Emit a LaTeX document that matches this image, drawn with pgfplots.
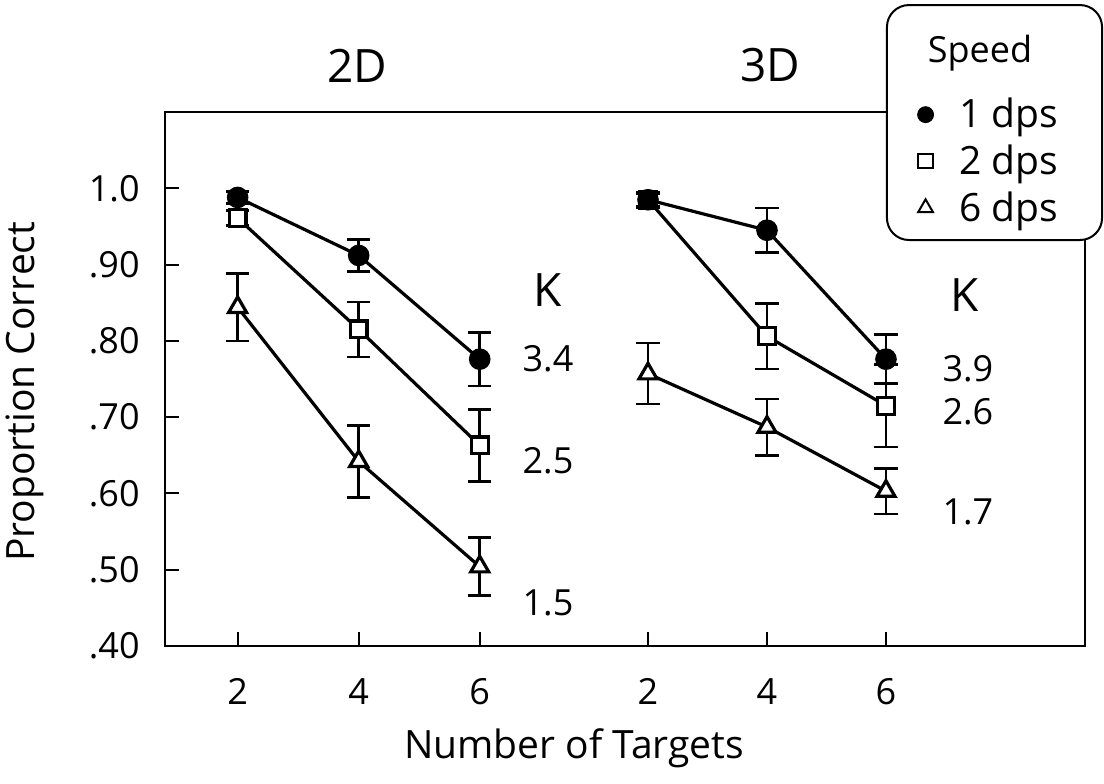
\documentclass[border=0pt]{standalone}
\usepackage{pgfplots}
\pgfplotsset{compat=1.18}
\usepackage{fontspec}
\setmainfont{Open Sans}
\pgfplotstableread{
x y e
1 0.988 0.008
2 0.912 0.021
3 0.776 0.035
}\tdA
\pgfplotstableread{
x y e
1 0.961 0.010
2 0.815 0.036
3 0.663 0.047
}\tdB
\pgfplotstableread{
x y e
1 0.844 0.044
2 0.642 0.047
3 0.504 0.038
}\tdC
\pgfplotstableread{
x y e
4.39 0.985 0.010
5.373 0.945 0.029
6.356 0.776 0.032
}\ttA
\pgfplotstableread{
x y e
4.39 0.985 0.008
5.373 0.806 0.043
6.356 0.715 0.054
}\ttB
\pgfplotstableread{
x y e
4.39 0.757 0.040
5.373 0.687 0.037
6.356 0.603 0.030
}\ttC
\newcommand{\fs}{\fontsize{18}{22}\selectfont}
\newcommand{\fl}{\fontsize{19.5}{23}\selectfont}
\newcommand{\fb}{\fontsize{23}{27}\selectfont}
\pgfplotsset{
  ser/.style={black, line width=1.6pt, mark options={solid, line width=1pt, black},
    error bars/y dir=both, error bars/y explicit,
    error bars/error bar style={line width=1.3pt, black},
    error bars/error mark options={rotate=90, mark size=5.8pt, line width=1.3pt, black}},
}
\begin{document}
\begin{tikzpicture}
\useasboundingbox (-82.5pt,-68.5pt) rectangle (469.5pt,323pt);
\begin{axis}[
  at={(0pt,0pt)}, anchor=south west,
  scale only axis, width=460pt, height=267pt,
  xmin=0.4, xmax=8.0, ymin=0.4, ymax=1.1,
  clip=false,
  axis line style={line width=1pt},
  xtick={1,2,3,4.39,5.373,6.356}, xticklabels={2,4,6,2,4,6},
  ytick={0.4,0.5,0.6,0.7,0.8,0.9,1.0}, yticklabels={.40,.50,.60,.70,.80,.90,1.0},
  xtick pos=bottom, ytick pos=left, tick align=inside,
  major tick length=7pt, tick style={line width=1pt, black},
  every tick label/.append style={font=\fs},
  yticklabel style={inner sep=0pt, xshift=-12.5pt},
  xticklabel style={inner sep=0pt, anchor=north, yshift=-16pt},
  xlabel={Number of Targets}, ylabel={Proportion Correct},
  label style={font=\fl},
  xlabel style={at={(axis description cs:0.4446,-0.191)}, anchor=center},
  ylabel style={at={(axis description cs:-0.1527,0.476)}, anchor=center},
  legend style={draw=none, fill=none, at={(axis cs:7.207,1.0354)}, anchor=center,
    font=\fl, row sep=5pt, nodes={inner sep=1pt}},
  legend cell align=left,
]
\addplot[ser, forget plot, mark=triangle*, mark size=5.2pt, mark options={fill=white}] table[x=x,y=y,y error=e] {\tdC};
\addplot[ser, forget plot, mark=square*, mark size=4.2pt, mark options={fill=white}] table[x=x,y=y,y error=e] {\tdB};
\addplot[ser, forget plot, mark=*, mark size=4.6pt, mark options={fill=black}] table[x=x,y=y,y error=e] {\tdA};
\addplot[ser, forget plot, mark=triangle*, mark size=5.2pt, mark options={fill=white}] table[x=x,y=y,y error=e] {\ttC};
\addplot[ser, forget plot, mark=square*, mark size=4.2pt, mark options={fill=white}] table[x=x,y=y,y error=e] {\ttB};
\addplot[ser, forget plot, mark=*, mark size=4.6pt, mark options={fill=black}] table[x=x,y=y,y error=e] {\ttA};

\node[font=\fb] at (axis cs:1.986,1.161) {2D};
\node[font=\fb] at (axis cs:5.398,1.161) {3D};
\node[font=\fb] at (axis cs:3.564,0.866) {K};
\node[font=\fs] at (axis cs:3.564,0.777) {3.4};
\node[font=\fs] at (axis cs:3.564,0.6435) {2.5};
\node[font=\fs] at (axis cs:3.564,0.456) {1.5};
\node[font=\fb] at (axis cs:7.009,0.860) {K};
\node[font=\fs] at (axis cs:7.033,0.764) {3.9};
\node[font=\fs] at (axis cs:7.033,0.7065) {2.6};
\node[font=\fs] at (axis cs:7.033,0.5754) {1.7};

\draw[line width=1pt, fill=white, rounded corners=11pt] (axis cs:6.364,1.2402) rectangle (axis cs:8.141,0.9322);
\node[font=\fs] at (axis cs:7.133,1.177) {Speed};

\addlegendimage{only marks, black, mark=*, mark size=4pt, mark options={fill=black}}
\addlegendentry{\hspace*{12pt}1 dps}
\addlegendimage{only marks, black, mark=square*, mark size=3.6pt, mark options={fill=white, line width=1pt}}
\addlegendentry{\hspace*{12pt}2 dps}
\addlegendimage{only marks, black, mark=triangle*, mark size=4.3pt, mark options={fill=white, line width=1pt}}
\addlegendentry{\hspace*{12pt}6 dps}
\end{axis}
\end{tikzpicture}
\end{document}
